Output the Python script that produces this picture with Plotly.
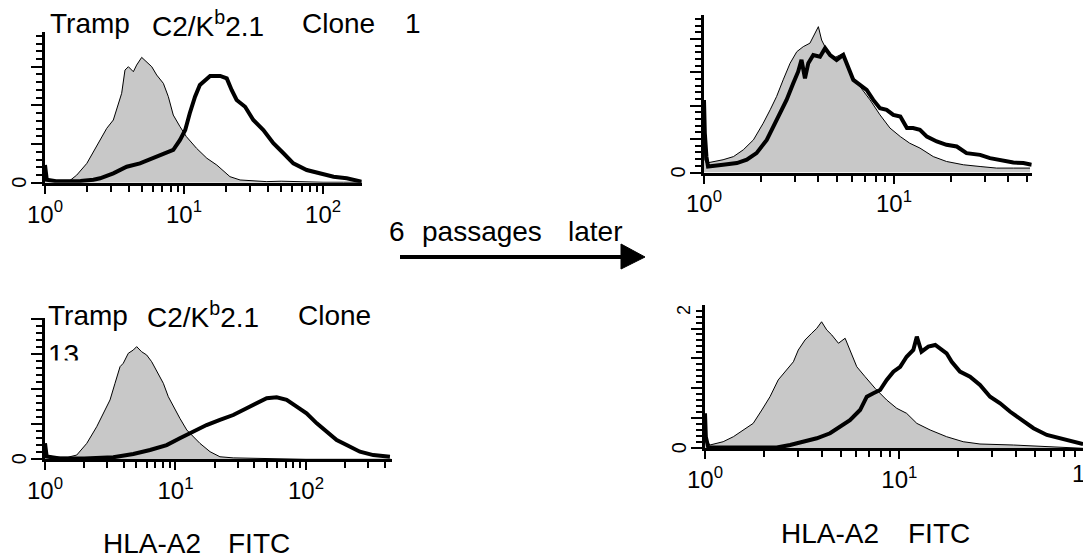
import plotly.graph_objects as go

W, H = 1083, 558
FONT = "Liberation Sans, Arial, sans-serif"

# ---------------- data (y = % of the axis height) ----------------
tl_gray_x = [1.0, 1.03, 1.1, 1.3, 1.5, 1.69, 2.0, 2.35, 2.78, 3.1, 3.37, 3.56, 3.76, 3.98, 4.32, 4.56, 4.96, 5.39, 5.86,
             6.36, 7.1, 7.71, 8.37, 9.36, 10.4, 12.3, 14.6, 17.2, 21.4, 25.3, 31.5, 39.4, 50, 70, 100, 140, 190]
tl_gray_y = [11, 3, 1.5, 1.0, 1.2, 5.0, 12.8, 23.8, 36.0, 41.5, 52.6, 59.2, 74.6, 76.8, 73.5, 77.9, 83.0, 80.1, 76.8,
             71.3, 65.8, 57.0, 44.8, 37.1, 30.5, 22.8, 16.2, 11.7, 4.0, 1.8, 1.3, 0.7, 1.0, 0.5, 0.3, 0.3, 0.3]
tl_black_x = [1.0, 1.03, 1.2, 1.5, 1.8, 2.23, 2.49, 3.10, 3.87, 4.82, 6.01, 7.50, 8.37, 9.36, 10.2, 11.0, 12.0, 13.0,
              14.2, 15.4, 18.2, 20.3, 22.0, 23.9, 27.5, 31.5, 37.2, 43.9, 51.9, 61.1, 76.3, 95.1, 119, 148, 190]
tl_black_y = [11.7, 2, 1, 1, 1.2, 2, 2.9, 6.2, 10.6, 12.8, 16.2, 19.5, 21.7, 28.3, 34.9, 46.0, 57.0, 64.7,
              68.0, 70.7, 70.7, 69.1, 61.4, 54.8, 50.3, 41.5, 34.9, 26.1, 19.5, 12.8, 8.4, 6.2, 4.0, 2.9, 0.7]

bl_gray_x = [1.0, 1.03, 1.2, 1.5, 1.75, 2.09, 2.49, 2.80, 3.15, 3.44, 3.76, 3.98, 4.35, 4.75, 5.04, 5.50, 6.01, 6.57,
             7.18, 8.07, 8.81, 9.62, 10.8, 12.2, 13.7, 15.4, 18.4, 21.9, 27.7, 50.0, 100, 200, 450]
bl_gray_y = [11.3, 3, 1.5, 1.5, 3.0, 11.3, 23.1, 32.6, 42.1, 53.9, 65.7, 68.1, 75.2, 77.5, 79.9, 76.3, 74.0, 69.2,
             62.1, 53.9, 44.4, 37.3, 29.1, 20.8, 16.0, 11.3, 5.4, 1.8, 1.0, 0.5, 0, 0, 0]
bl_black_x = [1.0, 1.03, 1.3, 2.0, 3.34, 4.75, 6.38, 8.56, 10.8, 13.7, 17.3, 21.9, 27.7, 35.1, 41.9, 50.0, 59.6, 71.1,
              84.9, 101, 121, 144, 172, 205, 259, 328, 440]
bl_black_y = [11.3, 2, 0.5, 0.5, 1.4, 3.8, 6.6, 10.1, 14.9, 19.6, 24.3, 27.9, 31.4, 36.2, 39.7, 43.3, 44.0, 42.1,
              37.3, 32.6, 25.5, 19.6, 13.7, 10.1, 5.4, 3.0, 1.8]

tr_gray_x = [1.0, 1.01, 1.03, 1.26, 1.43, 1.61, 1.82, 2.05, 2.23, 2.41, 2.61, 2.84, 3.08, 3.33, 3.61, 3.84, 4.00, 4.16,
             4.42, 4.80, 5.41, 5.87, 6.62, 7.48, 8.44, 9.53, 10.8, 12.1, 13.7, 16.1, 18.9, 23.2, 28.4, 34.7, 42.5, 52.0]
tr_gray_y = [25, 8, 6.0, 8.1, 10.1, 14.4, 20.7, 31.3, 39.8, 48.2, 58.8, 69.4, 76.7, 79.9, 82.1, 88.4, 92.6, 84.1,
             77.8, 72.5, 75.7, 63.0, 54.5, 46.1, 36.6, 28.2, 22.8, 18.6, 15.5, 10.1, 7.0, 4.9, 3.8, 2.8, 2.8, 2.8]
tr_black_x = [1.0, 1.01, 1.03, 1.05, 1.26, 1.49, 1.68, 1.89, 2.14, 2.32, 2.51, 2.72, 2.95, 3.13, 3.26, 3.40, 3.54,
              3.76, 4.08, 4.34, 4.61, 4.99, 5.41, 5.75, 6.11, 6.62, 7.18, 7.78, 8.44, 9.15, 9.92, 10.8, 11.7, 12.6,
              13.7, 14.9, 16.8, 18.9, 21.4, 24.1, 28.4, 32.0, 36.1, 42.5, 48.0, 53.1]
tr_black_y = [46, 25, 10, 3.8, 4.9, 6.0, 8.1, 12.3, 20.7, 29.2, 37.7, 46.1, 56.7, 64.0, 71.5, 59.8, 69.4,
              74.6, 73.5, 78.9, 74.6, 71.5, 74.6, 67.2, 58.8, 55.6, 52.4, 46.1, 40.8, 39.8, 36.6, 35.5, 28.2, 28.2,
              27.1, 22.8, 19.7, 17.6, 16.5, 12.3, 11.2, 9.1, 8.1, 6.3, 6.0, 4.9]

br_gray_x = [1.0, 1.01, 1.06, 1.24, 1.40, 1.57, 1.77, 1.96, 2.16, 2.38, 2.63, 2.85, 3.02, 3.27, 3.54, 3.76, 3.98, 4.23,
             4.49, 4.86, 5.26, 5.57, 6.04, 6.66, 7.50, 8.61, 9.70, 10.9, 12.3, 14.4, 17.5, 21.3, 26.0, 38.6, 57.4, 88]
br_gray_y = [20, 6, 2.3, 4.6, 8.1, 12.8, 17.4, 26.7, 36.0, 47.7, 54.6, 60.4, 68.6, 75.6, 80.3, 83.7, 88.3, 82.6,
             79.1, 73.3, 76.8, 68.6, 56.9, 50.0, 41.9, 33.7, 27.9, 24.4, 17.4, 12.8, 8.1, 4.6, 3.0, 2.3, 1.1, 0]
br_black_x = [1.0, 1.01, 1.04, 1.5, 2.34, 2.74, 3.21, 3.76, 4.40, 4.95, 5.57, 6.28, 6.80, 7.35, 7.96, 8.61, 9.32, 10.1,
              10.9, 11.8, 12.3, 13.0, 14.1, 15.3, 16.2, 17.5, 18.6, 20.5, 23.1, 26.0, 29.3, 33.0, 37.2, 41.8, 49.0,
              57.4, 67.2, 78.7, 88.2]
br_black_y = [24.4, 8, 0.5, 0.5, 0.5, 2.3, 4.6, 7.0, 10.5, 15.1, 19.7, 26.7, 36.0, 38.4, 40.7, 47.7, 53.5, 56.9,
              63.9, 68.6, 77.9, 67.4, 71.0, 72.1, 69.8, 66.3, 60.4, 53.5, 50.0, 44.2, 36.0, 31.4, 25.5, 20.9, 14.0,
              9.3, 7.0, 4.6, 3.0]

x_tick_vals = [1, 10, 100]
x_tick_text = ["10<sup>0</sup>", "10<sup>1</sup>", "10<sup>2</sup>"]
x_minor_vals = [m * d for d in (1, 10, 100) for m in range(2, 10)]

title_words = ["Tramp", "C2/K<sup>b</sup>2.1", "Clone"]
axis_title_words = ["HLA-A2", "FITC"]
arrow_words = ["6", "passages", "later"]


def px_x(v):
    return v / W


def px_y(v):
    return 1 - v / H


# panel geometry in pixels: x0, x1, ytop, ybase, log-range max, y major step (% of height)
panels = {
    "TL": dict(x0=45, x1=361.7, yt=31.7, yb=182.7, xmax=2.278, ystep=25.6,
               gx=tl_gray_x, gy=tl_gray_y, bx=tl_black_x, by=tl_black_y),
    "TR": dict(x0=704, x1=1031.7, yt=15, yb=172.5, xmax=1.725, ystep=21.2,
               gx=tr_gray_x, gy=tr_gray_y, bx=tr_black_x, by=tr_black_y),
    "BL": dict(x0=45, x1=391.7, yt=318.3, yb=459.3, xmax=2.657, ystep=24.8,
               gx=bl_gray_x, gy=bl_gray_y, bx=bl_black_x, by=bl_black_y),
    "BR": dict(x0=705, x1=1083, yt=305, yb=448.3, xmax=1.945, ystep=20.9,
               gx=br_gray_x, gy=br_gray_y, bx=br_black_x, by=br_black_y),
}

fig = go.Figure()
layout = dict(
    width=W, height=H, autosize=False,
    margin=dict(l=0, r=0, t=0, b=0, pad=0),
    paper_bgcolor="white", plot_bgcolor="white",
    showlegend=False,
    font=dict(family=FONT, color="black"),
)

annotations = []


def text(x, y, s, size=28, xanchor="left", angle=0, **extra):
    annotations.append(dict(x=px_x(x), y=px_y(y), xref="paper", yref="paper", text=s,
                            showarrow=False, xanchor=xanchor, yanchor="middle", textangle=angle,
                            font=dict(family=FONT, size=size, color="black"), **extra))


for i, (name, p) in enumerate(panels.items(), start=1):
    xa = "xaxis" if i == 1 else f"xaxis{i}"
    ya = "yaxis" if i == 1 else f"yaxis{i}"
    xr = "x" if i == 1 else f"x{i}"
    yr = "y" if i == 1 else f"y{i}"
    fig.add_trace(go.Scatter(x=p["gx"], y=p["gy"], mode="lines", fill="tozeroy",
                             fillcolor="#c8c8c8", line=dict(color="black", width=1),
                             xaxis=xr, yaxis=yr, hoverinfo="skip"))
    fig.add_trace(go.Scatter(x=p["bx"], y=p["by"], mode="lines",
                             line=dict(color="black", width=4),
                             xaxis=xr, yaxis=yr, hoverinfo="skip"))
    step = p["ystep"]
    yvals = [k * step for k in range(0, int(100 // step) + 1)]
    layout[xa] = dict(
        type="log", range=[0, p["xmax"]], domain=[px_x(p["x0"]), px_x(p["x1"])],
        anchor=yr, automargin=False, showgrid=False, zeroline=False,
        showline=True, linecolor="black", linewidth=3,
        ticks="outside", ticklen=8, tickwidth=2, tickcolor="black",
        tickmode="array", tickvals=x_tick_vals, ticktext=x_tick_text,
        tickfont=dict(size=24, family=FONT, color="black"),
        minor=dict(tickmode="array", tickvals=x_minor_vals, ticks="outside", ticklen=6,
                   tickwidth=2, tickcolor="black", showgrid=False),
    )
    layout[ya] = dict(
        range=[0, 100], domain=[px_y(p["yb"]), px_y(p["yt"])],
        anchor=xr, automargin=False, showgrid=False, zeroline=False,
        showline=True, linecolor="black", linewidth=3,
        ticks="outside", ticklen=11, tickwidth=2, tickcolor="black",
        tickmode="array", tickvals=yvals, showticklabels=False,
        minor=dict(tickmode="linear", tick0=0, dtick=step / 5, ticks="outside", ticklen=6,
                   tickwidth=2, tickcolor="black", showgrid=False),
    )
    # rotated "0" at the baseline of each count axis
    text(p["x0"] - 26, p["yb"], "0", size=20, xanchor="center", angle=-90)

fig.update_layout(**layout)

# titles
for x, w in zip([48, 150, 300], title_words):
    text(x, 24, w)
text(403, 24, "1")
for x, w in zip([46, 145, 296], title_words):
    text(x, 315, w)
text(46, 354, "13")
# white box hiding the lower part of the clipped "13"
text(46, 368, "\u00a0", size=10, bgcolor="white", width=34, height=12)
# axis titles
for x, w in zip([101, 226], axis_title_words):
    text(x, 543, w)
for x, w in zip([779, 906], axis_title_words):
    text(x, 533, w)
# arrow label
for x, w in zip([387, 420, 566], arrow_words):
    text(x, 231, w)
# partial labels
text(1070, 473, "1", size=24)
text(684, 310, "2", size=18, xanchor="center", angle=-90)

fig.update_layout(annotations=annotations)

# arrow
shapes = [
    dict(type="line", xref="paper", yref="paper", x0=px_x(400), y0=px_y(257), x1=px_x(625), y1=px_y(257),
         line=dict(color="black", width=4)),
    dict(type="path", xref="paper", yref="paper",
         path=f"M {px_x(621)},{px_y(244)} L {px_x(645)},{px_y(257)} L {px_x(621)},{px_y(269)} Z",
         fillcolor="black", line=dict(color="black", width=1)),
]
fig.update_layout(shapes=shapes)

fig.write_html("out.html", config={"displayModeBar": False},
               post_script="document.body.style.margin='0';document.body.style.padding='0';")
